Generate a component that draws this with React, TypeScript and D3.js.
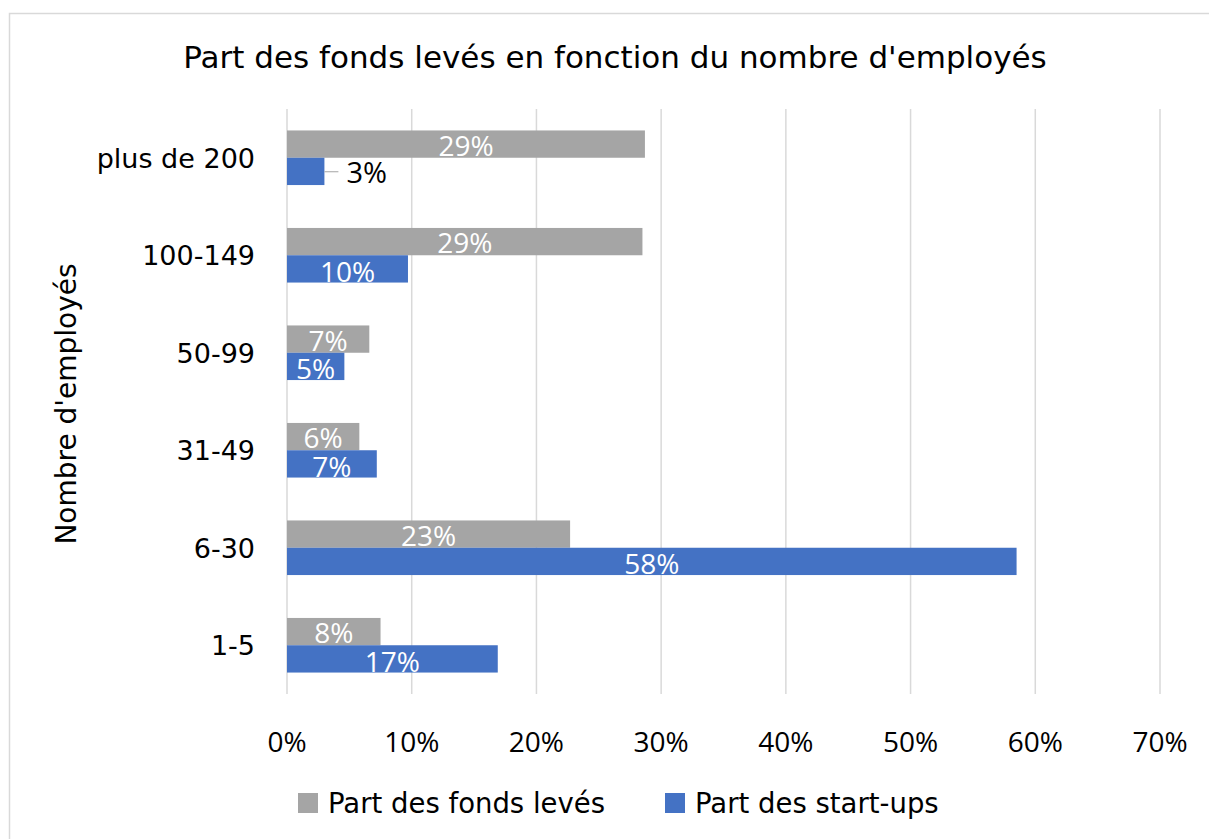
import React from "react";
import * as d3 from "d3";

const categories = ["plus de 200", "100-149", "50-99", "31-49", "6-30", "1-5"];
const fondsLeves = [0.287, 0.285, 0.066, 0.058, 0.227, 0.075];
const startUps = [0.030, 0.097, 0.046, 0.072, 0.585, 0.169];
const fondsLabels = ["29%", "29%", "7%", "6%", "23%", "8%"];
const startLabels = ["3%", "10%", "5%", "7%", "58%", "17%"];
const xTicks = [0, 0.1, 0.2, 0.3, 0.4, 0.5, 0.6, 0.7];
const seriesNames = ["Part des fonds levés", "Part des start-ups"];
const colors = ["#A5A5A5", "#4472C4"];

const FONT = "'Open Sans', 'Noto Sans', sans-serif";
const WIDE = "'DejaVu Sans', 'Open Sans', sans-serif";

export default function App() {
  const W = 1209, H = 839;
  const x = d3.scaleLinear().domain([0, 0.7]).range([287, 1160]);
  const y = d3.scaleBand<string>().domain(categories).range([109, 694]).paddingInner(0.44).paddingOuter(0.22);
  const bw = y.bandwidth() / 2;
  const fmt = d3.format(".0%");
  return (
    <svg width={W} height={H} style={{ position: "absolute", left: 0, top: 0, fontFamily: FONT }}>
      <rect x={0} y={0} width={W} height={H} fill="#fff" />
      <rect x={9.5} y={13.5} width={W} height={H} fill="none" stroke="#d9d9d9" strokeWidth={1.5} />
      <text x={615} y={68} textAnchor="middle" fontSize={31} fontFamily={WIDE} fill="#000">
        Part des fonds levés en fonction du nombre d'employés
      </text>
      {xTicks.map((t) => (
        <line key={t} x1={x(t)} x2={x(t)} y1={109} y2={694} stroke="#d9d9d9" strokeWidth={1.5} />
      ))}
      {xTicks.map((t) => (
        <text key={"l" + t} x={x(t)} y={752} textAnchor="middle" fontSize={28} fill="#000">
          {fmt(t)}
        </text>
      ))}
      {categories.map((c, i) => {
        const y0 = y(c)!;
        const big = x(startUps[i]) - x(0) > 40;
        return (
          <g key={c}>
            <text x={255} y={y0 + bw + 10} textAnchor="end" fontSize={27} fontFamily={WIDE} fill="#000">{c}</text>
            <rect x={x(0)} y={y0} width={x(fondsLeves[i]) - x(0)} height={bw} fill={colors[0]} />
            <rect x={x(0)} y={y0 + bw} width={x(startUps[i]) - x(0)} height={bw} fill={colors[1]} />
            <text x={(x(0) + x(fondsLeves[i])) / 2} y={y0 + bw - 2} textAnchor="middle" fontSize={28} fill="#fff">
              {fondsLabels[i]}
            </text>
            {big ? (
              <text x={(x(0) + x(startUps[i])) / 2} y={y0 + 2 * bw - 1} textAnchor="middle" fontSize={28} fill="#fff">
                {startLabels[i]}
              </text>
            ) : (
              <g>
                <line x1={x(startUps[i])} x2={x(startUps[i]) + 14} y1={y0 + bw + 14} y2={y0 + bw + 14} stroke="#A5A5A5" strokeWidth={1} />
                <text x={x(startUps[i]) + 22} y={y0 + bw + 25} fontSize={29} fill="#000">{startLabels[i]}</text>
              </g>
            )}
          </g>
        );
      })}
      <text transform={`translate(76,404) rotate(-90)`} textAnchor="middle" fontSize={28} fontFamily={WIDE} fill="#000">
        Nombre d'employés
      </text>
      {seriesNames.map((s, i) => {
        const lx = i === 0 ? 298 : 665;
        return (
          <g key={s}>
            <rect x={lx} y={793} width={20} height={20} fill={colors[i]} />
            <text x={lx + 30} y={813} fontSize={27.5} fontFamily={WIDE} fill="#000">{s}</text>
          </g>
        );
      })}
    </svg>
  );
}
